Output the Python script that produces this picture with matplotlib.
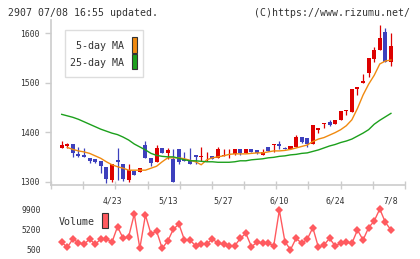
import numpy as np
import matplotlib.pyplot as plt

# ---------------- data ----------------
opens = [1367, 1372, 1375, 1356, 1354, 1347, 1346, 1342, 1330, 1304,
         1344, 1335, 1304, 1321, 1320, 1374, 1347, 1340, 1367, 1357,
         1346, 1366, 1346, 1344, 1354, 1350, 1349, 1352, 1347, 1351,
         1365, 1356, 1366, 1357, 1366, 1364, 1354, 1370, 1374, 1376,
         1367, 1365, 1370, 1390, 1388, 1375, 1404, 1416, 1421, 1416,
         1425, 1443, 1441, 1487, 1499, 1520, 1549, 1566, 1603, 1541]
highs = [1382, 1378, 1375, 1370, 1367, 1347, 1346, 1342, 1330, 1335,
         1367, 1335, 1335, 1321, 1327, 1382, 1347, 1374, 1367, 1367,
         1366, 1366, 1359, 1367, 1354, 1369, 1359, 1352, 1369, 1366,
         1366, 1366, 1366, 1366, 1366, 1364, 1366, 1370, 1375, 1382,
         1369, 1372, 1394, 1390, 1388, 1414, 1408, 1418, 1424, 1425,
         1443, 1445, 1487, 1492, 1518, 1551, 1572, 1617, 1610, 1601]
lows = [1367, 1367, 1350, 1350, 1350, 1337, 1337, 1317, 1298, 1300,
        1304, 1302, 1300, 1313, 1320, 1347, 1332, 1340, 1357, 1345,
        1300, 1335, 1342, 1335, 1335, 1342, 1342, 1345, 1347, 1351,
        1347, 1353, 1353, 1357, 1359, 1355, 1354, 1362, 1360, 1366,
        1365, 1365, 1370, 1379, 1369, 1375, 1399, 1408, 1412, 1416,
        1425, 1435, 1441, 1475, 1499, 1511, 1541, 1566, 1541, 1534]
closes = [1374, 1376, 1357, 1352, 1350, 1342, 1340, 1332, 1306, 1335,
          1340, 1306, 1323, 1313, 1327, 1347, 1337, 1367, 1357, 1364,
          1300, 1340, 1342, 1335, 1350, 1352, 1350, 1345, 1366, 1354,
          1366, 1366, 1357, 1366, 1359, 1357, 1360, 1362, 1375, 1372,
          1365, 1372, 1391, 1381, 1375, 1414, 1408, 1418, 1414, 1425,
          1443, 1445, 1487, 1492, 1504, 1551, 1566, 1591, 1541, 1574]

ma5 = [np.nan, 1369, 1365, 1362, 1360, 1357, 1352, 1347, 1340, 1334,
       1330, 1327, 1323, 1323, 1323, 1323, 1327, 1331, 1340, 1348,
       1348, 1348, 1346, 1343, 1340, 1334, 1344, 1348, 1350, 1352,
       1355, 1356, 1356, 1356, 1357, 1358, 1358, 1360, 1362, 1362,
       1363, 1365, 1368, 1371, 1374, 1381, 1386, 1389, 1394, 1399,
       1405, 1413, 1425, 1448, 1475, 1497, 1515, 1538, 1544, 1546]
ma25 = [1436, 1433, 1430, 1426, 1421, 1416, 1411, 1406, 1402, 1398,
        1395, 1390, 1384, 1376, 1370, 1364, 1357, 1353, 1351, 1350,
        1350, 1347, 1344, 1342, 1342, 1341, 1340, 1340, 1339, 1339,
        1339, 1340, 1342, 1342, 1344, 1345, 1346, 1348, 1349, 1351,
        1352, 1354, 1355, 1357, 1358, 1361, 1364, 1368, 1372, 1375,
        1379, 1382, 1386, 1392, 1398, 1405, 1416, 1424, 1431, 1438]

volume = [2130, 970, 2900, 2040, 1670, 2900, 1670, 2900, 3000, 2130,
          5770, 3060, 3440, 8720, 730, 8490, 4060, 4760, 730, 2430,
          5160, 6390, 2670, 2600, 1340, 1730, 1730, 2900, 1900, 1730,
          1340, 1280, 3060, 4230, 1120, 2130, 1900, 1900, 1350, 9640,
          2290, 400, 3060, 1900, 2830, 5550, 970, 1510, 3060, 1280,
          1900, 2130, 1900, 5010, 2680, 5550, 7100, 9900, 6790, 5010]

date_labels = ['4/23', '5/13', '5/27', '6/10', '6/24', '7/8']
date_pos = [9, 19, 29, 39, 49, 59]
price_ticks = [1300, 1400, 1500, 1600]
vol_ticks = [500, 5200, 9900]

# ---------------- style ----------------
plt.rcParams['font.family'] = 'DejaVu Sans Mono'
txt = '#333333'
gridc = '#cccccc'
up_c = '#dd0000'
down_c = '#3d40bd'
ma5_c = '#f08a10'
ma25_c = '#1ca01c'
vol_c = '#ff5a5f'

W, H = 420, 259
fig = plt.figure(figsize=(W / 100, H / 100), dpi=100)
axv = fig.add_axes([51 / W, 4 / H, 354 / W, 55 / H])
ax = fig.add_axes([51 / W, 74 / H, 354 / W, 165 / H])
axv.patch.set_visible(False)

x = np.arange(len(closes))
o = np.array(opens, float)
c = np.array(closes, float)
up = c >= o
colors = np.where(up, up_c, down_c)
bottom = np.minimum(o, c)
height = np.maximum(np.abs(c - o), 0.8)

ax.vlines(x, lows, highs, colors=colors, linewidth=0.9, zorder=2)
ax.bar(x, height, bottom=bottom, width=0.72, color=colors, linewidth=0, zorder=3)
ax.plot(x, ma5, color=ma5_c, linewidth=1.0, zorder=4)
ax.plot(x, ma25, color=ma25_c, linewidth=1.0, zorder=4)

ax.set_xlim(-1.92, 61.52)
ax.set_ylim(1293, 1627)
for s in ['top', 'right']:
    ax.spines[s].set_visible(False)
for s in ['left', 'bottom']:
    ax.spines[s].set_color(gridc)
    ax.spines[s].set_linewidth(1.2)
ax.set_yticks(price_ticks)
ax.set_yticklabels([str(t) for t in price_ticks])
ax.tick_params(axis='y', length=4, width=1, color=gridc, labelsize=5.8,
               labelcolor=txt, pad=4)
ax.set_xticks(np.linspace(-1.92, 61.52, 12))
ax.set_xticklabels([])
ax.tick_params(axis='x', which='major', direction='inout', length=6,
               width=1, color=gridc)
ax.set_xticks(date_pos, minor=True)
ax.set_xticklabels(date_labels, minor=True)
ax.tick_params(axis='x', which='minor', length=0, labelsize=5.9,
               labelcolor=txt, pad=8)

# legend box
ax.add_patch(plt.Rectangle((65 / W, 1 - 77.3 / H), 78 / W, 47.3 / H,
                           transform=fig.transFigure, facecolor='white',
                           edgecolor='#dddddd', linewidth=1, zorder=5))
fig.text(124 / W, 1 - 45.7 / H, '5-day MA', ha='right', va='center',
         fontsize=7.2, color=txt, zorder=6)
fig.text(124 / W, 1 - 63.3 / H, '25-day MA', ha='right', va='center',
         fontsize=7.2, color=txt, zorder=6)
fig.patches.append(plt.Rectangle((131.7 / W, 1 - 52.7 / H), 5.6 / W, 15.4 / H,
                                 transform=fig.transFigure, facecolor=ma5_c,
                                 edgecolor='#333333', linewidth=0.8))
fig.patches.append(plt.Rectangle((131.7 / W, 1 - 69.3 / H), 5.6 / W, 15 / H,
                                 transform=fig.transFigure, facecolor=ma25_c,
                                 edgecolor='#333333', linewidth=0.8))

# volume panel
axv.plot(x, volume, color=vol_c, linewidth=1.0, marker='D', markersize=4.2,
         markeredgewidth=0)
axv.set_xlim(-1.92, 61.52)
axv.set_ylim(-830, 12000)
for s in axv.spines.values():
    s.set_visible(False)
axv.set_xticks([])
axv.set_yticks(vol_ticks)
axv.set_yticklabels([str(t) for t in vol_ticks])
axv.tick_params(axis='y', length=0, labelsize=5.8, labelcolor=txt, pad=7)
fig.text(58.3 / W, 1 - 222.3 / H, 'Volume', ha='left', va='center',
         fontsize=7.2, color=txt)
fig.patches.append(plt.Rectangle((101.7 / W, 1 - 228.3 / H), 6 / W, 15 / H,
                                 transform=fig.transFigure, facecolor=vol_c,
                                 edgecolor='#333333', linewidth=0.8))

fig.text(8 / W, 1 - 12.7 / H, '2907 07/08 16:55 updated.', ha='left',
         va='center', fontsize=7.1, color=txt)
fig.text(410 / W, 1 - 12.7 / H, '(C)https://www.rizumu.net/', ha='right',
         va='center', fontsize=7.1, color=txt)

fig.savefig('out.png', dpi=100, facecolor='white')
